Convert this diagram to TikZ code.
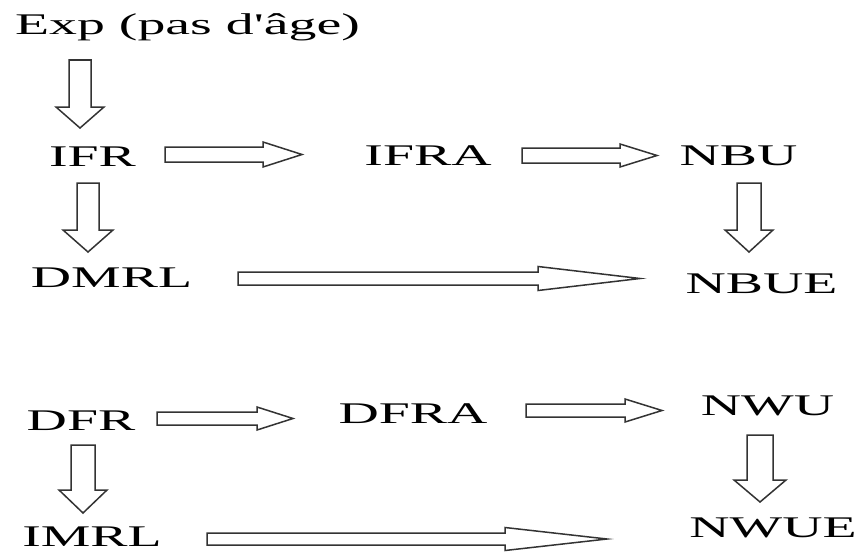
\documentclass[tikz,border=0pt]{standalone}
\usepackage{fontspec}
\setmainfont{Liberation Serif}[Ligatures=TeXOff]
\usetikzlibrary{calc}

% hollow block arrow from #1 (tail) to #2 (tip):
% #3 half shaft width, #4 half head width, #5 head length
\newcommand\blockarrow[5]{%
  \coordinate (ba-h) at ($(#2)!#5!(#1)$);
  \draw[blockarrow]
    ($(#1)!#3!90:(#2)$) -- ($(ba-h)!#3!90:(#2)$) -- ($(ba-h)!#4!90:(#2)$)
    -- (#2)
    -- ($(ba-h)!#4!-90:(#2)$) -- ($(ba-h)!#3!-90:(#2)$) -- ($(#1)!#3!-90:(#2)$)
    -- cycle;
}

\tikzset{
  term/.style={anchor=base, inner sep=0pt, font=\fontsize{30}{36}\selectfont},
  blockarrow/.style={draw=black!80, line width=1.5pt, fill=white, line join=miter}
}
\newcommand\wide[1]{\scalebox{1.86}[1]{#1}}

\begin{document}
\begin{tikzpicture}[x=1pt, y=-1pt]
  \useasboundingbox[fill=white] (0,0) rectangle (861,551);

  % classes (text baselines)
  \node[term] (exp)  at (187.5,35)  {\wide{Exp (pas d'âge)}};
  \node[term] (ifr)  at (92.5,166)  {\wide{IFR}};
  \node[term] (ifra) at (428,165)   {\wide{IFRA}};
  \node[term] (nbu)  at (738.5,165) {\wide{NBU}};
  \node[term] (dmrl) at (111.5,287) {\wide{DMRL}};
  \node[term] (nbue) at (761.5,293) {\wide{NBUE}};
  \node[term] (dfr)  at (81,430)    {\wide{DFR}};
  \node[term] (dfra) at (413,423)   {\wide{DFRA}};
  \node[term] (nwu)  at (767.5,415) {\wide{NWU}};
  \node[term] (imrl) at (92,546)    {\wide{IMRL}};
  \node[term] (nwue) at (773,537)   {\wide{NWUE}};

  % arrow ends
  \coordinate (exp-ifr-t)   at (80,60);    \coordinate (exp-ifr-h)   at (80,128);
  \coordinate (ifr-ifra-t)  at (165,154.5);\coordinate (ifr-ifra-h)  at (302,154.5);
  \coordinate (ifra-nbu-t)  at (522,155.5);\coordinate (ifra-nbu-h)  at (657,155.5);
  \coordinate (ifr-dmrl-t)  at (88,183);   \coordinate (ifr-dmrl-h)  at (88,252);
  \coordinate (nbu-nbue-t)  at (749,183);  \coordinate (nbu-nbue-h)  at (749,252);
  \coordinate (dmrl-nbue-t) at (238,278.5);\coordinate (dmrl-nbue-h) at (640,278.5);
  \coordinate (dfr-dfra-t)  at (157,418.5);\coordinate (dfr-dfra-h)  at (293,418.5);
  \coordinate (dfra-nwu-t)  at (526,410.5);\coordinate (dfra-nwu-h)  at (662,410.5);
  \coordinate (dfr-imrl-t)  at (83,445);   \coordinate (dfr-imrl-h)  at (83,513);
  \coordinate (nwu-nwue-t)  at (760,435);  \coordinate (nwu-nwue-h)  at (760,502);
  \coordinate (imrl-nwue-t) at (207,539);  \coordinate (imrl-nwue-h) at (607,539);

  % implications
  \blockarrow{exp-ifr-t}{exp-ifr-h}{11pt}{24pt}{21pt}
  \blockarrow{ifr-ifra-t}{ifr-ifra-h}{7.5pt}{12.5pt}{39pt}
  \blockarrow{ifra-nbu-t}{ifra-nbu-h}{7.5pt}{11.5pt}{37pt}
  \blockarrow{ifr-dmrl-t}{ifr-dmrl-h}{11pt}{25pt}{22pt}
  \blockarrow{nbu-nbue-t}{nbu-nbue-h}{12pt}{24pt}{22pt}
  \blockarrow{dmrl-nbue-t}{dmrl-nbue-h}{6.5pt}{12pt}{102pt}
  \blockarrow{dfr-dfra-t}{dfr-dfra-h}{6.5pt}{11.5pt}{36pt}
  \blockarrow{dfra-nwu-t}{dfra-nwu-h}{6.5pt}{11.5pt}{37pt}
  \blockarrow{dfr-imrl-t}{dfr-imrl-h}{12pt}{24pt}{23pt}
  \blockarrow{nwu-nwue-t}{nwu-nwue-h}{13pt}{26pt}{22pt}
  \blockarrow{imrl-nwue-t}{imrl-nwue-h}{6pt}{11.5pt}{102pt}
\end{tikzpicture}
\end{document}
